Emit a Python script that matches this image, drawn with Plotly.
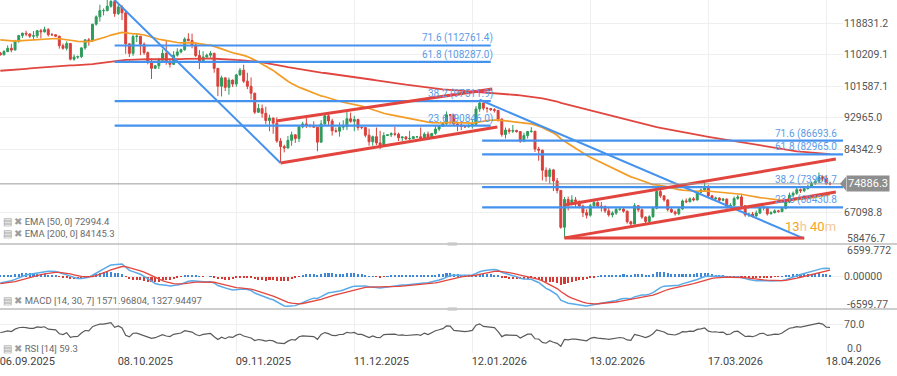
import pandas as pd
import plotly.graph_objects as go

# ---------------- data (daily BTC candles) ----------------
start_date = "2025-09-06"
first_open = 110700

close = [
    110200, 111100, 112000, 111500, 113900, 115500, 116100, 115900, 115300, 115400,
    116800, 116500, 117100, 115700, 115700, 115300, 112700, 112000, 113300, 109000,
    109600, 109700, 112100, 114300, 114000, 118600, 120600, 122300, 122300, 123500,
    124800, 121500, 123300, 121700, 113200, 110600, 115200, 115300, 113100, 110800,
    108200, 106500, 107200, 108700, 110600, 108500, 107600, 110100, 111000, 111600,
    114500, 114100, 112900, 110000, 108300, 109600, 110100, 110600, 106500, 101600,
    103900, 101300, 103300, 102200, 104700, 106000, 103000, 101600, 99700, 94500,
    95500, 94200, 92200, 92900, 91500, 86600, 85100, 84700, 86800, 88300,
    87300, 90500, 91300, 90900, 90800, 90400, 86300, 91300, 93500, 92100,
    89400, 89300, 90400, 90600, 92700, 92000, 92500, 90300, 90300, 88200,
    86400, 87800, 86100, 85500, 88100, 88300, 88600, 88500, 87500, 87700,
    87200, 87300, 87800, 87800, 87200, 88500, 87500, 88700, 89900, 90600,
    91400, 93800, 93700, 91300, 91000, 90600, 90500, 90800, 91200, 95400,
    97000, 95600, 95500, 95200, 95000, 92600, 88400, 89600, 89300, 89500,
    89200, 86600, 88100, 89200, 89300, 84400, 84100, 78600, 76900, 78700,
    75700, 73100, 63000, 70600, 69400, 70500, 70100, 68800, 67000, 66300,
    68900, 69800, 68800, 68600, 67500, 66400, 66900, 67900, 68000, 67400,
    64500, 63900, 68900, 67800, 65800, 64600, 65900, 68200, 72800, 71600,
    70500, 67900, 67200, 66700, 68000, 70200, 70000, 70800, 70500, 72600,
    73200, 74200, 71600, 70800, 71000, 70400, 70700, 68600, 69000, 70900,
    71300, 68900, 66400, 66600, 66100, 66900, 68300, 68500, 66700, 67000,
    67500, 67300, 68200, 69900, 71800, 72300, 73300, 73000, 73600, 74200,
    75100, 75600, 76800, 76400, 75000, 74886.3,
]

high = [
    111000, 111500, 112800, 113200, 114300, 115600, 116300, 116800, 116100, 116700,
    117000, 117300, 117900, 117500, 116200, 115900, 115400, 113300, 113900, 113400,
    110300, 110000, 112300, 114500, 114800, 118600, 121000, 123900, 122900, 125700,
    126200, 125100, 124100, 123800, 122500, 113400, 115800, 115900, 115300, 113600,
    111100, 109200, 107400, 109400, 111700, 114000, 109000, 111200, 112000, 111900,
    115000, 116100, 116000, 113600, 111500, 111200, 110500, 111200, 110800, 106600,
    104500, 104000, 104000, 103400, 105000, 106600, 107500, 105300, 104000, 99800,
    96800, 96600, 96000, 93800, 93000, 93100, 87400, 85600, 88000, 89200,
    88500, 90600, 91900, 93000, 91200, 92000, 90400, 92300, 94100, 94000,
    92700, 90300, 91700, 92300, 94600, 94400, 93500, 92700, 90600, 90300,
    90000, 88100, 90300, 89400, 89000, 88500, 89000, 90500, 88900, 87900,
    88000, 89400, 88000, 88000, 90300, 89000, 89200, 88800, 90900, 90700,
    91800, 94700, 94000, 94000, 91500, 91900, 90800, 91200, 92400, 96200,
    97900, 97100, 95900, 95600, 95600, 95100, 92800, 90300, 90200, 91000,
    89700, 89200, 88900, 89400, 90400, 89300, 85000, 84200, 79400, 79200,
    79000, 76500, 73200, 71300, 71400, 71800, 71300, 70300, 69200, 67900,
    69400, 70500, 70100, 69900, 69000, 68300, 67400, 68300, 68500, 68300,
    67600, 64800, 69600, 69000, 68200, 66000, 66300, 68600, 73500, 73300,
    71800, 70600, 68300, 67600, 68400, 70600, 70900, 71200, 71300, 73000,
    73600, 75500, 74500, 71900, 71400, 71200, 71000, 70900, 69600, 71400,
    71900, 71800, 69100, 67000, 67200, 67600, 68700, 69000, 68600, 67400,
    67900, 67800, 68500, 70400, 72500, 72800, 73800, 73600, 74100, 74600,
    75500, 76000, 78000, 77200, 77000, 75500,
]

low = [
    110000, 110100, 110900, 110900, 111500, 113500, 114800, 115300, 114800, 114400,
    114800, 114700, 116300, 115200, 115400, 115200, 111900, 111600, 111400, 108700,
    108600, 109100, 109300, 111600, 112700, 113900, 118200, 119300, 121000, 122100,
    123100, 120600, 121100, 119700, 110500, 109600, 109900, 113700, 110100, 110200,
    107600, 103600, 106400, 106300, 108400, 107500, 106700, 107400, 109700, 110600,
    111300, 113900, 112000, 109600, 106300, 108000, 109400, 109500, 105300, 98900,
    98800, 100300, 99300, 101400, 101500, 104500, 102500, 100800, 98000, 94000,
    94300, 93000, 91200, 89300, 88600, 86100, 80600, 83500, 84600, 85300,
    86100, 86300, 90100, 90200, 90300, 90300, 83800, 86200, 91000, 91000,
    88100, 88900, 87800, 89600, 89600, 91600, 89300, 89500, 89800, 87600,
    85300, 85300, 85500, 84400, 85100, 88000, 87700, 87900, 86600, 86500,
    86900, 86800, 87300, 87400, 86900, 86900, 87100, 87300, 88300, 89300,
    90500, 91000, 91200, 90900, 89300, 89600, 90200, 90300, 90000, 91000,
    94600, 95000, 94400, 94800, 94400, 91900, 87800, 87300, 88600, 88800,
    88900, 86100, 86300, 87300, 88900, 83600, 81200, 75800, 75500, 74800,
    72900, 72300, 62600, 60100, 67600, 69000, 68300, 68200, 65800, 65400,
    65900, 68600, 68300, 67300, 66900, 65900, 65700, 66400, 67500, 67000,
    64000, 63400, 63800, 67200, 65300, 63600, 64300, 65600, 67900, 71000,
    70000, 67300, 66900, 66200, 66300, 67800, 69600, 69800, 70100, 70300,
    72300, 73000, 71200, 70400, 70200, 70000, 70100, 68100, 68300, 68700,
    70500, 68500, 65900, 65800, 65700, 65900, 66600, 67600, 66200, 66500,
    66800, 67000, 67100, 67900, 69600, 71200, 71900, 72400, 72600, 73300,
    73900, 74600, 75100, 75600, 74600, 74500,
]

ema50_seed = 114450
ema200_seed = 105800
macd_fast_seed = 110300
macd_slow_seed = 111700
macd_signal_seed = -1500
rsi_gain_seed = 800
rsi_loss_seed = 800

# axis ticks / labels
x_tick_dates = ["2025-09-06", "2025-10-08", "2025-11-09", "2025-12-11",
                "2026-01-12", "2026-02-13", "2026-03-17", "2026-04-18"]
x_tick_labels = ["06.09.2025", "08.10.2025", "09.11.2025", "11.12.2025",
                 "12.01.2026", "13.02.2026", "17.03.2026", "18.04.2026"]
price_ticks = [118831.2, 110209.1, 101587.1, 92965.0, 84342.9, 67098.8, 58476.7]
macd_ticks = [6599.772, 0.0, -6599.772]
macd_tick_labels = ["6599.772", "0.00000", "-6599.77"]
rsi_ticks = [0, 70]
rsi_tick_labels = ["0.0", "70.0"]

# fibonacci drawings
fib1_start, fib1_end = "2025-10-07", "2026-01-17"
fib1_levels = ["71.6", "61.8", "38.2", "23.6"]
fib1_prices = [112761.4, 108287.0, 97511.9, 90846.0]
fib2_start, fib2_end = "2026-01-14 16:00", "2026-04-25"
fib2_levels = ["71.6", "61.8", "38.2", "23.6"]
fib2_prices = [86693.6, 82965.0, 73986.7, 68430.8]

# trend-line drawings: (date0, price0, date1, price1)
blue_lines = [
    ("2025-10-06", 126200, "2025-11-21", 80600),
    ("2026-01-14", 97900, "2026-04-12", 59900),
]
red_lines = [
    ("2025-11-19 20:00", 92100, "2026-01-17 10:00", 100850),
    ("2025-11-21", 80600, "2026-01-18 19:00", 90450),
    ("2026-02-06", 69100, "2026-04-20 14:00", 81700),
    ("2026-02-06", 60100, "2026-04-20 14:00", 72660),
    ("2026-02-06", 60100, "2026-04-12", 60100),
]

legend_ema50 = "EMA [50, 0] 72994.4"
legend_ema200 = "EMA [200, 0] 84145.3"
legend_macd = "MACD [14, 30, 7] 1571.96804, 1327.94497"
legend_rsi = "RSI [14] 59.3"
countdown_hours, countdown_minutes = "13", "40"

# ---------------- indicators ----------------
def ema(vals, n, seed):
    k = 2.0 / (n + 1)
    out, e = [], seed
    for v in vals:
        e += k * (v - e)
        out.append(e)
    return out


def rsi_wilder(vals, n, prev, g0, l0):
    ag, al, p, out = g0, l0, prev, []
    for v in vals:
        d = v - p
        ag = (ag * (n - 1) + max(d, 0)) / n
        al = (al * (n - 1) + max(-d, 0)) / n
        out.append(100 - 100 / (1 + ag / al))
        p = v
    return out


dates = pd.date_range(start_date, periods=len(close), freq="D")
opens = [first_open] + close[:-1]
ema50 = ema(close, 50, ema50_seed)
ema200 = ema(close, 200, ema200_seed)
fast = ema(close, 14, macd_fast_seed)
slow = ema(close, 30, macd_slow_seed)
macd = [a - b for a, b in zip(fast, slow)]
signal = ema(macd, 7, macd_signal_seed)
hist = [a - b for a, b in zip(macd, signal)]
rsi = rsi_wilder(close, 14, first_open, rsi_gain_seed, rsi_loss_seed)

# ---------------- styling ----------------
GREEN = "#2e9b5c"
RED = "#d8403a"
ORANGE = "#f39c26"
EMA200_C = "#e0463f"
BLUE_DRAW = "#4592ee"
RED_DRAW = "#e2443e"
GRID = "#efefef"
TXT = "#555555"

PLOT_H = 353.0
main_bottom = 109 / PLOT_H
macd_bottom = 44 / PLOT_H


def py(px):
    """paper y from pixel row measured from the top of the plot area"""
    return (PLOT_H - px) / PLOT_H


fig = go.Figure()
fig.add_trace(go.Candlestick(
    x=dates, open=opens, high=high, low=low, close=close,
    increasing=dict(line=dict(color=GREEN, width=1), fillcolor=GREEN),
    decreasing=dict(line=dict(color=RED, width=1), fillcolor=RED),
    whiskerwidth=0, hoverinfo="skip", xaxis="x", yaxis="y"))
fig.add_trace(go.Scatter(x=dates, y=ema50, mode="lines",
                         line=dict(color=ORANGE, width=1.7), xaxis="x", yaxis="y"))
fig.add_trace(go.Scatter(x=dates, y=ema200, mode="lines",
                         line=dict(color=EMA200_C, width=1.8), xaxis="x", yaxis="y"))

fig.add_trace(go.Bar(x=dates, y=hist,
                     marker=dict(color=["#3d87d6" if h >= 0 else "#d63a34" for h in hist], line=dict(width=0)),
                     width=0.55 * 86400000, xaxis="x", yaxis="y2"))
fig.add_trace(go.Scatter(x=dates, y=macd, mode="lines",
                         line=dict(color="#5aaae8", width=1.5), xaxis="x", yaxis="y2"))
fig.add_trace(go.Scatter(x=dates, y=signal, mode="lines",
                         line=dict(color="#e2463f", width=1.3), xaxis="x", yaxis="y2"))
fig.add_trace(go.Scatter(x=dates, y=rsi, mode="lines",
                         line=dict(color="#5a5a5a", width=1.2), xaxis="x", yaxis="y3"))

shapes = []
for p in fib1_prices:
    shapes.append(dict(type="line", xref="x", yref="y", x0=fib1_start, x1=fib1_end, y0=p, y1=p,
                       line=dict(color=BLUE_DRAW, width=2.2)))
for p in fib2_prices:
    shapes.append(dict(type="line", xref="x", yref="y", x0=fib2_start, x1=fib2_end, y0=p, y1=p,
                       line=dict(color=BLUE_DRAW, width=2.2)))
for d0, p0, d1, p1 in blue_lines:
    shapes.append(dict(type="line", xref="x", yref="y", x0=d0, y0=p0, x1=d1, y1=p1,
                       line=dict(color=BLUE_DRAW, width=2)))
for d0, p0, d1, p1 in red_lines:
    shapes.append(dict(type="line", xref="x", yref="y", x0=d0, y0=p0, x1=d1, y1=p1,
                       line=dict(color=RED_DRAW, width=3)))
# current price line
shapes.append(dict(type="line", xref="paper", yref="y", x0=0, x1=1, y0=close[-1], y1=close[-1],
                   line=dict(color="#9c9c9c", width=1)))
# panel separators
for yb in (main_bottom, macd_bottom):
    shapes.append(dict(type="line", xref="paper", yref="paper", x0=0, x1=1.07, y0=yb, y1=yb,
                       line=dict(color="#bcbcbc", width=1.5)))
    shapes.append(dict(type="rect", xref="paper", yref="paper", x0=0.531, x1=0.542,
                       y0=yb - 1.6 / PLOT_H, y1=yb + 1.6 / PLOT_H,
                       fillcolor="#c9c9c9", line=dict(width=0)))
# price tag pointer
shapes.append(dict(type="path", xref="paper", yref="y", xsizemode="pixel", ysizemode="pixel",
                   xanchor=1, yanchor=close[-1], path="M -3,0 L 3,7 L 3,-7 Z",
                   fillcolor="#8e8e8e", line=dict(width=0)))

ann = []
for lv, p in zip(fib1_levels, fib1_prices):
    ann.append(dict(x=fib1_end, y=p, xref="x", yref="y", xanchor="right", yanchor="bottom",
                    xshift=4, yshift=-1, text=f"{lv} ({p:.1f})", showarrow=False,
                    font=dict(size=10, color="#5b9be8")))
for lv, p in zip(fib2_levels, fib2_prices):
    ann.append(dict(x=1, y=p, xref="paper", yref="y", xanchor="right", yanchor="bottom",
                    xshift=-4, yshift=-1, text=f"{lv} ({p:.1f}", showarrow=False,
                    font=dict(size=10, color="#5b9be8")))

icon = "<span style='color:#9d9d9d'>▤ ✖</span> "
for txt, ypx in ((legend_ema50, 221), (legend_ema200, 234), (legend_macd, 300), (legend_rsi, 348.5)):
    ann.append(dict(x=0, y=py(ypx), xref="paper", yref="paper", xanchor="left",
                    yanchor="middle", xshift=1, text=icon + txt, showarrow=False,
                    font=dict(size=9.5, color="#6a6a6a")))

ann.append(dict(x=1, y=close[-1], xref="paper", yref="y", xanchor="left", yanchor="middle",
                xshift=3, text=f"{close[-1]:.1f}", showarrow=False, bgcolor="#8e8e8e",
                borderpad=1, font=dict(size=11, color="white")))
# axis-edge labels that the chart pushes inside their panels
for txt, ypx in ((f"{price_ticks[-1]:.1f}", 238.5), (macd_tick_labels[0], 250.5),
                 (macd_tick_labels[2], 304.0), (rsi_tick_labels[0], 348.5)):
    ann.append(dict(x=1, y=py(ypx), xref="paper", yref="paper", xanchor="left",
                    yanchor="middle", xshift=2, text=txt, showarrow=False,
                    font=dict(size=10.5, color=TXT)))
ann.append(dict(x=1, y=py(226), xref="paper", yref="paper", xanchor="right",
                yanchor="middle", xshift=-5,
                text=(f"<span style='color:#f5a22a'>{countdown_hours}</span>"
                      f"<span style='color:#f2c896'>h</span> "
                      f"<span style='color:#f5a22a'>{countdown_minutes}</span>"
                      f"<span style='color:#f2c896'>m</span>"),
                showarrow=False, font=dict(size=13)))

fig.update_layout(
    width=897, height=376,
    margin=dict(l=0, r=54, t=0, b=23),
    paper_bgcolor="white", plot_bgcolor="white",
    showlegend=False, boxgap=0.25, bargap=0,
    font=dict(family="Roboto, Arial, sans-serif", color=TXT),
    xaxis=dict(type="date", range=["2025-09-05 22:00", "2026-04-22 12:40"], anchor="y3",
               tickvals=x_tick_dates, ticktext=x_tick_labels, ticklabelshift=27,
               ticklabeloverflow="allow",
               showgrid=True, gridcolor=GRID, zeroline=False, showline=False, ticks="",
               tickfont=dict(size=11, color="#444444"), rangeslider=dict(visible=False)),
    yaxis=dict(domain=[main_bottom, 1], range=[58425, 125208], side="right", anchor="x",
               tickvals=price_ticks[:-1], ticktext=[f"{t:.1f}" for t in price_ticks[:-1]],
               showgrid=True, gridcolor=GRID, zeroline=False, ticks="",
               tickfont=dict(size=10.5, color=TXT)),
    yaxis2=dict(domain=[macd_bottom, main_bottom], range=[macd_ticks[2], macd_ticks[0]],
                side="right", anchor="x",
                tickvals=[macd_ticks[1]], ticktext=[macd_tick_labels[1]],
                showgrid=True, gridcolor=GRID, zeroline=False, ticks="",
                tickfont=dict(size=10.5, color=TXT)),
    yaxis3=dict(domain=[0, macd_bottom], range=[0, 106.2], side="right", anchor="x",
                tickvals=[rsi_ticks[1]], ticktext=[rsi_tick_labels[1]],
                showgrid=True, gridcolor=GRID, zeroline=False, ticks="",
                tickfont=dict(size=10.5, color=TXT)),
    shapes=shapes, annotations=ann,
)

fig.write_html("out.html", config={"displayModeBar": False},
               post_script="document.body.style.margin='0px';")
